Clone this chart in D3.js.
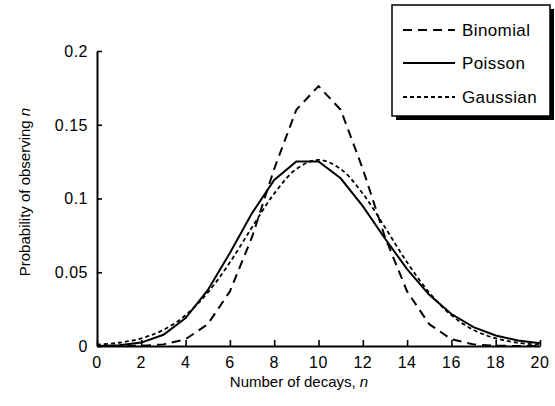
<!DOCTYPE html>
<html>
<head>
<meta charset="utf-8">
<script src="https://cdn.jsdelivr.net/npm/d3@7"></script>
<style>
  body { margin: 0; background: #fff; }
  text { font-family: "Liberation Sans", Arial, sans-serif; fill: #000; }
</style>
</head>
<body>
<div id="chart"></div>
<script>
// values, n = 0..20
let nValues = d3.range(0, 21);
let binomial = [0.0000, 0.0000, 0.0002, 0.0011, 0.0046, 0.0148, 0.0370, 0.0739, 0.1201, 0.1602, 0.1762,
                0.1602, 0.1201, 0.0739, 0.0370, 0.0148, 0.0046, 0.0011, 0.0002, 0.0000, 0.0000];
let poisson = [0.0000, 0.0005, 0.0023, 0.0076, 0.0189, 0.0378, 0.0631, 0.0901, 0.1126, 0.1251, 0.1251,
               0.1137, 0.0948, 0.0729, 0.0521, 0.0347, 0.0217, 0.0128, 0.0071, 0.0037, 0.0019];
let gaussian = [0.0009, 0.0022, 0.0052, 0.0109, 0.0209, 0.0362, 0.0567, 0.0805, 0.1033, 0.1200, 0.1262,
                0.1200, 0.1033, 0.0805, 0.0567, 0.0362, 0.0209, 0.0109, 0.0052, 0.0022, 0.0009];
let xTicks = [0, 2, 4, 6, 8, 10, 12, 14, 16, 18, 20];
let yTicks = [0, 0.05, 0.1, 0.15, 0.2];
let yTickLabels = ["0", "0.05", "0.1", "0.15", "0.2"];
let seriesNames = ["Binomial", "Poisson", "Gaussian"];

let width = 555, height = 406;
let svg = d3.select("#chart").append("svg")
    .attr("width", width)
    .attr("height", height);

let x = d3.scaleLinear().domain([0, 20]).range([97, 540]);
let y = d3.scaleLinear().domain([0, 0.2]).range([346, 51]);

// styles per series
let styles = {
    Binomial: { dash: "9,6", width: 2, curve: d3.curveLinear, values: binomial },
    Poisson:  { dash: null, width: 2, curve: d3.curveLinear, values: poisson },
    Gaussian: { dash: "4,3", width: 1.8, curve: d3.curveCatmullRom, values: gaussian }
};

// axes: only left and bottom lines, ticks pointing inward
let xAxis = svg.append("g")
    .attr("transform", "translate(0," + y(0) + ")")
    .call(d3.axisTop(x).tickValues(xTicks).tickSize(6).tickSizeOuter(0).tickFormat(""));
xAxis.select(".domain").attr("stroke-width", 2);
xAxis.selectAll(".tick line").attr("stroke-width", 1.6);

let yAxis = svg.append("g")
    .attr("transform", "translate(" + x(0) + ",0)")
    .call(d3.axisRight(y).tickValues(yTicks).tickSize(5).tickSizeOuter(0).tickFormat(""));
yAxis.select(".domain").attr("stroke-width", 2);
yAxis.selectAll(".tick line").attr("stroke-width", 1.6);

// tick labels
svg.selectAll(".xlab")
    .data(xTicks)
    .join("text")
    .attr("class", "xlab")
    .attr("x", d => x(d))
    .attr("y", 368)
    .attr("text-anchor", "middle")
    .style("font-size", "16px")
    .style("letter-spacing", "0.5px")
    .text(d => d);

svg.selectAll(".ylab")
    .data(yTicks)
    .join("text")
    .attr("class", "ylab")
    .attr("x", 88)
    .attr("y", d => y(d))
    .attr("dy", "0.36em")
    .attr("text-anchor", "end")
    .style("font-size", "16px")
    .style("letter-spacing", "0.5px")
    .text((d, i) => yTickLabels[i]);

// axis titles
let xTitle = svg.append("text")
    .attr("x", 299)
    .attr("y", 387)
    .attr("text-anchor", "middle")
    .style("font-size", "15px");
xTitle.append("tspan").text("Number of decays, ");
xTitle.append("tspan").style("font-style", "italic").text("n");

let yTitle = svg.append("text")
    .attr("transform", "translate(30,192) rotate(-90)")
    .attr("text-anchor", "middle")
    .style("font-size", "15px");
yTitle.append("tspan").text("Probability of observing ");
yTitle.append("tspan").style("font-style", "italic").text("n");

// curves
seriesNames.forEach(name => {
    let s = styles[name];
    let line = d3.line()
        .x((d, i) => x(nValues[i]))
        .y(d => y(d))
        .curve(s.curve);
    svg.append("path")
        .datum(s.values)
        .attr("d", line)
        .attr("fill", "none")
        .attr("stroke", "#000")
        .attr("stroke-width", s.width)
        .attr("stroke-dasharray", s.dash);
});

// legend box with drop shadow
let legend = svg.append("g");
legend.append("rect")
    .attr("x", 396).attr("y", 9)
    .attr("width", 158).attr("height", 111)
    .attr("fill", "#000");
legend.append("rect")
    .attr("x", 392).attr("y", 5)
    .attr("width", 158).attr("height", 111)
    .attr("fill", "#fff")
    .attr("stroke", "#000")
    .attr("stroke-width", 1.5);

let legendY = [30, 63, 97];
seriesNames.forEach((name, i) => {
    let s = styles[name];
    legend.append("line")
        .attr("x1", 403).attr("x2", 455)
        .attr("y1", legendY[i]).attr("y2", legendY[i])
        .attr("stroke", "#000")
        .attr("stroke-width", s.width)
        .attr("stroke-dasharray", s.dash);
    legend.append("text")
        .attr("x", 462)
        .attr("y", legendY[i])
        .attr("dy", "0.36em")
        .style("font-size", "17px")
        .style("letter-spacing", "0.4px")
        .text(name);
});
</script>
</body>
</html>
